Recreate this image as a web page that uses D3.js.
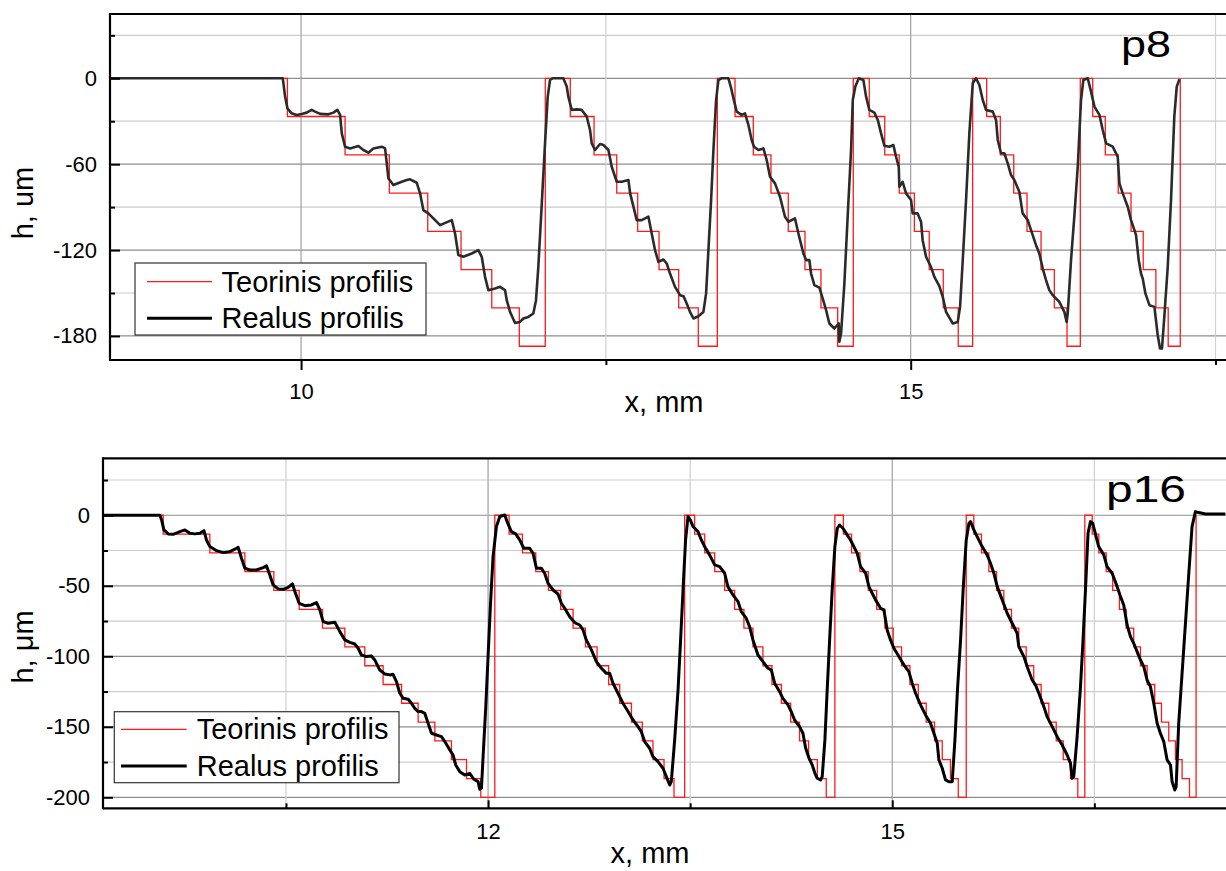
<!DOCTYPE html>
<html>
<head>
<meta charset="utf-8">
<script src="https://cdn.jsdelivr.net/npm/d3@7"></script>
<style>
    body { margin: 0; background: #fff; }
    text { font-family: "Liberation Sans", Arial, sans-serif; fill: #000; }
</style>
</head>
<body>
<svg id="chart" width="1226" height="871"></svg>
<script>
// p8: theoretical step profile, [x mm, h um], each level holds until the next x
const p8Teor = [
    [8.43, 0], [9.888, -26.7], [10.361, -53.5], [10.724, -80.2], [11.039, -107], [11.312, -133.7], [11.564, -160.4], [11.790, -187.2],
    [12.003, 0], [12.208, -26.7], [12.403, -53.5], [12.589, -80.2], [12.761, -107], [12.936, -133.7], [13.097, -160.4], [13.258, -187.2],
    [13.414, 0], [13.559, -26.7], [13.709, -53.5], [13.854, -80.2], [13.996, -107], [14.133, -133.7], [14.264, -160.4], [14.401, -187.2],
    [14.529, 0], [14.660, -26.7], [14.787, -53.5], [14.906, -80.2], [15.030, -107], [15.152, -133.7], [15.267, -160.4], [15.390, -187.2],
    [15.508, 0], [15.623, -26.7], [15.735, -53.5], [15.845, -80.2], [15.954, -107], [16.069, -133.7], [16.178, -160.4], [16.282, -187.2],
    [16.391, 0], [16.493, -26.7], [16.596, -53.5], [16.702, -80.2], [16.807, -107], [16.907, -133.7], [17.011, -160.4], [17.112, -187.2],
    [17.211, 0]
];

// p8: measured profile
const p8Real = [
    [8.43, 0], [9.850, 0], [9.869, -12.8], [9.888, -21.0], [9.923, -24.5], [9.964, -25.6], [10.005, -24.9], [10.046, -24.0],
    [10.087, -22.1], [10.115, -23.3], [10.156, -24.9], [10.224, -25.2], [10.265, -24.0], [10.298, -22.1], [10.320, -25.6],
    [10.334, -38.5], [10.361, -47.8], [10.402, -49.0], [10.470, -47.3], [10.511, -50.1], [10.552, -52.0], [10.593, -49.0],
    [10.662, -47.8], [10.689, -49.0], [10.703, -59.4], [10.716, -69.9], [10.757, -74.6], [10.826, -72.3], [10.867, -71.1],
    [10.894, -70.6], [10.949, -73.0], [10.976, -80.4], [11.003, -92.1], [11.044, -94.4], [11.085, -97.9], [11.140, -102.6],
    [11.236, -99.1], [11.263, -108.4], [11.290, -123.5], [11.331, -124.7], [11.400, -122.4], [11.454, -120.0], [11.482, -124.7],
    [11.509, -138.7], [11.536, -148.0], [11.591, -146.9], [11.632, -145.7], [11.673, -148.0], [11.687, -155.0], [11.714, -163.2],
    [11.755, -170.9], [11.796, -170.2], [11.823, -167.8], [11.864, -166.7], [11.905, -164.3], [11.927, -155.0], [11.946, -131.7],
    [11.973, -89.7], [12.001, -45.5], [12.023, -12.8], [12.042, -1.2], [12.064, 0], [12.151, 0], [12.179, -5.8], [12.192, -12.8],
    [12.220, -22.1], [12.261, -21.7], [12.302, -22.1], [12.343, -26.8], [12.370, -36.1], [12.384, -45.5], [12.411, -50.1],
    [12.452, -45.9], [12.480, -46.6], [12.521, -50.1], [12.548, -61.8], [12.589, -72.3], [12.630, -72.3], [12.685, -71.1],
    [12.699, -80.4], [12.726, -89.7], [12.753, -99.1], [12.794, -99.1], [12.849, -96.7], [12.876, -108.4], [12.903, -120.0],
    [12.931, -128.2], [12.972, -126.6], [12.999, -129.4], [13.026, -136.4], [13.067, -145.7], [13.108, -151.5], [13.136, -152.2],
    [13.163, -157.3], [13.190, -163.2], [13.218, -167.8], [13.259, -166.2], [13.300, -163.2], [13.322, -150.3], [13.341, -120.0],
    [13.363, -85.1], [13.382, -50.1], [13.404, -15.2], [13.423, -1.2], [13.450, 0], [13.505, 0], [13.524, -5.8], [13.546, -14.0],
    [13.573, -23.3], [13.614, -25.6], [13.641, -24.5], [13.669, -32.6], [13.696, -43.1], [13.715, -47.8], [13.751, -50.1],
    [13.792, -49.0], [13.819, -57.1], [13.846, -68.8], [13.887, -73.4], [13.928, -82.8], [13.969, -96.7], [13.997, -100.2],
    [14.051, -97.9], [14.079, -108.4], [14.120, -122.4], [14.142, -127.0], [14.169, -127.0], [14.183, -136.4], [14.210, -144.5],
    [14.251, -146.2], [14.278, -153.8], [14.306, -162.0], [14.333, -171.3], [14.374, -174.8], [14.410, -171.3], [14.415, -184.1],
    [14.429, -178.3], [14.456, -143.4], [14.483, -96.7], [14.511, -50.1], [14.525, -15.2], [14.546, -5.8], [14.574, 0],
    [14.612, -1.2], [14.634, -12.8], [14.661, -22.1], [14.702, -24.0], [14.730, -29.1], [14.757, -38.5], [14.784, -47.1],
    [14.825, -47.8], [14.858, -46.6], [14.880, -54.8], [14.902, -61.8], [14.907, -75.8], [14.934, -72.3], [14.962, -80.4],
    [15.003, -85.1], [15.016, -94.4], [15.057, -94.4], [15.085, -100.2], [15.098, -113.1], [15.126, -124.7], [15.167, -131.9],
    [15.194, -138.7], [15.235, -145.2], [15.263, -152.7], [15.290, -163.2], [15.345, -171.3], [15.386, -170.2], [15.405, -159.7],
    [15.427, -127.0], [15.454, -85.1], [15.481, -38.5], [15.509, -3.5], [15.536, 0], [15.563, -4.7], [15.591, -15.2],
    [15.618, -22.1], [15.673, -23.3], [15.700, -29.1], [15.714, -43.1], [15.741, -52.4], [15.768, -52.4], [15.796, -59.4],
    [15.823, -67.6], [15.850, -71.1], [15.891, -79.3], [15.918, -94.4], [15.960, -99.1], [15.987, -106.1], [16.028, -116.6],
    [16.055, -122.4], [16.083, -132.9], [16.110, -141.0], [16.137, -148.0], [16.165, -151.5], [16.219, -156.2], [16.260, -163.2],
    [16.279, -170.2], [16.288, -164.3], [16.315, -127.0], [16.342, -96.7], [16.370, -61.8], [16.397, -15.2], [16.416, -1.2],
    [16.452, 0], [16.479, -9.3], [16.507, -19.8], [16.548, -25.6], [16.575, -36.1], [16.603, -45.5], [16.657, -47.8],
    [16.698, -54.8], [16.712, -73.4], [16.739, -80.4], [16.780, -89.7], [16.807, -99.1], [16.835, -106.1], [16.848, -109.6],
    [16.870, -127.0], [16.889, -136.4], [16.903, -139.9], [16.925, -150.3], [16.958, -158.5], [16.999, -159.7], [17.026, -179.5],
    [17.045, -188.8], [17.061, -188.8], [17.080, -166.7], [17.108, -131.9], [17.135, -85.1], [17.162, -26.8], [17.182, -5.8],
    [17.204, -0.7]
];

// p16: theoretical step profile
const p16Teor = [
    [9.14, 0], [9.589, -13.3], [9.935, -26.7], [10.195, -40], [10.410, -53.3], [10.598, -66.7], [10.771, -80], [10.937, -93.3],
    [11.085, -106.7], [11.221, -120], [11.358, -133.3], [11.481, -146.7], [11.605, -160], [11.728, -173.3], [11.840, -186.7], [11.946, -200],
    [12.050, 0], [12.156, -13.3], [12.255, -26.7], [12.354, -40], [12.448, -53.3], [12.539, -66.7], [12.631, -80], [12.723, -93.3],
    [12.809, -106.7], [12.895, -120], [12.977, -133.3], [13.064, -146.7], [13.145, -160], [13.224, -173.3], [13.306, -186.7], [13.380, -200],
    [13.459, 0], [13.533, -13.3], [13.608, -26.7], [13.682, -40], [13.756, -53.3], [13.830, -66.7], [13.899, -80], [13.966, -93.3],
    [14.040, -106.7], [14.107, -120], [14.177, -133.3], [14.246, -146.7], [14.312, -160], [14.379, -173.3], [14.444, -186.7], [14.510, -200],
    [14.574, 0], [14.637, -13.3], [14.698, -26.7], [14.760, -40], [14.822, -53.3], [14.884, -66.7], [14.945, -80], [15.007, -93.3],
    [15.069, -106.7], [15.131, -120], [15.193, -133.3], [15.252, -146.7], [15.314, -160], [15.371, -173.3], [15.432, -186.7], [15.490, -200],
    [15.549, 0], [15.605, -13.3], [15.662, -26.7], [15.717, -40], [15.774, -53.3], [15.828, -66.7], [15.885, -80], [15.939, -93.3],
    [15.994, -106.7], [16.050, -120], [16.105, -133.3], [16.162, -146.7], [16.217, -160], [16.269, -173.3], [16.323, -186.7], [16.377, -200],
    [16.429, 0], [16.484, -13.3], [16.533, -26.7], [16.588, -40], [16.636, -53.3], [16.686, -66.7], [16.736, -80], [16.792, -93.3],
    [16.842, -106.7], [16.892, -120], [16.948, -133.3], [16.998, -146.7], [17.052, -160], [17.102, -173.3], [17.151, -186.7], [17.206, -200],
    [17.255, 0]
];

// p16: measured profile
const p16Real = [
    [9.14, 0], [9.564, 0], [9.577, -3.3], [9.594, -10.4], [9.626, -13.2], [9.663, -13.5], [9.713, -11.6], [9.750, -10.4],
    [9.787, -12.8], [9.824, -13.2], [9.861, -12.8], [9.891, -10.9], [9.910, -17.5], [9.935, -22.2], [9.985, -25.1],
    [10.034, -26.5], [10.084, -25.8], [10.133, -23.4], [10.145, -22.7], [10.170, -30.5], [10.195, -37.6], [10.232, -38.8],
    [10.281, -38.8], [10.331, -37.1], [10.356, -35.9], [10.380, -42.3], [10.405, -49.4], [10.442, -52.2], [10.479, -52.5],
    [10.516, -51.1], [10.548, -48.7], [10.566, -54.1], [10.598, -62.4], [10.640, -64.1], [10.689, -63.6], [10.727, -61.9],
    [10.751, -67.1], [10.776, -75.4], [10.813, -76.6], [10.863, -75.9], [10.900, -82.5], [10.937, -88.4], [10.974, -90.1],
    [11.011, -91.3], [11.036, -94.3], [11.060, -99.1], [11.097, -100.2], [11.135, -99.8], [11.159, -102.6], [11.196, -109.7],
    [11.233, -112.5], [11.271, -113.2], [11.295, -112.8], [11.320, -118.0], [11.345, -126.2], [11.370, -129.8], [11.407, -130.5],
    [11.431, -133.3], [11.456, -136.9], [11.481, -139.2], [11.505, -139.2], [11.530, -140.4], [11.555, -147.5], [11.580, -154.6],
    [11.617, -155.8], [11.654, -157.0], [11.679, -160.5], [11.716, -166.4], [11.740, -170.0], [11.760, -177.1], [11.790, -181.8],
    [11.827, -184.2], [11.864, -183.0], [11.894, -187.2], [11.926, -188.9], [11.938, -194.3], [11.951, -193.6], [11.963, -171.2],
    [11.983, -135.7], [12.000, -100.2], [12.017, -64.8], [12.037, -29.3], [12.062, -8.0], [12.087, -0.9], [12.124, 0.2],
    [12.141, -4.5], [12.173, -11.6], [12.205, -13.2], [12.235, -17.5], [12.265, -23.4], [12.309, -23.4], [12.334, -27.0],
    [12.359, -37.6], [12.396, -37.6], [12.420, -41.1], [12.445, -48.2], [12.482, -53.0], [12.519, -55.8], [12.544, -62.4],
    [12.569, -66.0], [12.606, -71.9], [12.643, -76.1], [12.680, -77.8], [12.705, -81.3], [12.729, -88.4], [12.767, -95.5],
    [12.804, -103.8], [12.841, -108.5], [12.878, -112.1], [12.903, -112.1], [12.927, -119.1], [12.964, -126.2], [13.001, -133.3],
    [13.039, -139.2], [13.076, -145.2], [13.113, -149.9], [13.137, -153.4], [13.162, -160.5], [13.199, -165.2], [13.224, -171.2],
    [13.261, -174.7], [13.298, -179.4], [13.323, -185.3], [13.348, -191.3], [13.360, -188.9], [13.385, -159.3], [13.410, -123.9],
    [13.429, -88.4], [13.447, -53.0], [13.466, -17.5], [13.484, -0.9], [13.501, -3.3], [13.521, -8.0], [13.558, -11.6],
    [13.583, -17.5], [13.607, -22.2], [13.644, -28.1], [13.682, -35.2], [13.719, -36.4], [13.756, -41.1], [13.780, -50.6],
    [13.818, -56.5], [13.855, -61.2], [13.879, -68.3], [13.916, -73.0], [13.941, -79.0], [13.966, -88.4], [14.003, -99.1],
    [14.040, -103.8], [14.077, -108.5], [14.102, -109.7], [14.127, -119.1], [14.164, -125.1], [14.188, -129.8], [14.226, -134.5],
    [14.250, -139.2], [14.275, -145.2], [14.312, -149.9], [14.337, -154.6], [14.357, -165.0], [14.381, -172.0], [14.406, -177.1],
    [14.426, -183.0], [14.443, -186.5], [14.468, -187.7], [14.480, -185.3], [14.500, -159.3], [14.517, -123.9], [14.535, -88.4],
    [14.554, -53.0], [14.574, -22.2], [14.592, -9.2], [14.609, -6.9], [14.634, -9.2], [14.658, -12.8], [14.690, -17.5],
    [14.715, -22.2], [14.740, -27.0], [14.765, -36.4], [14.802, -41.1], [14.827, -50.6], [14.851, -55.3], [14.876, -60.0],
    [14.913, -66.0], [14.938, -67.1], [14.962, -81.3], [14.987, -88.4], [15.012, -94.3], [15.049, -100.2], [15.086, -106.1],
    [15.123, -110.9], [15.148, -119.1], [15.173, -126.2], [15.210, -134.5], [15.247, -141.6], [15.284, -147.5], [15.309, -154.6],
    [15.334, -161.7], [15.346, -173.5], [15.371, -179.4], [15.395, -187.7], [15.420, -188.9], [15.445, -188.9], [15.465, -159.3],
    [15.484, -123.9], [15.507, -88.4], [15.526, -53.0], [15.549, -17.5], [15.569, -5.7], [15.581, -4.5], [15.606, -10.4],
    [15.630, -15.1], [15.667, -22.2], [15.704, -28.1], [15.729, -34.0], [15.754, -41.1], [15.779, -50.6], [15.816, -60.0],
    [15.853, -69.5], [15.890, -76.6], [15.927, -83.7], [15.939, -93.1], [15.977, -100.2], [16.001, -107.3], [16.038, -116.8],
    [16.063, -120.3], [16.088, -126.2], [16.125, -135.7], [16.149, -142.8], [16.187, -149.9], [16.224, -157.0], [16.261, -162.9],
    [16.298, -170.0], [16.323, -175.9], [16.335, -186.5], [16.347, -185.3], [16.372, -157.0], [16.397, -121.5], [16.416, -88.4],
    [16.434, -53.0], [16.453, -12.8], [16.471, -4.5], [16.488, -5.7], [16.513, -15.1], [16.532, -22.2], [16.570, -28.1],
    [16.594, -36.4], [16.632, -41.1], [16.669, -50.6], [16.694, -57.7], [16.718, -63.6], [16.743, -77.8], [16.768, -86.1],
    [16.792, -90.8], [16.817, -96.7], [16.842, -102.6], [16.867, -107.3], [16.891, -116.8], [16.916, -121.5], [16.941, -133.3],
    [16.966, -147.5], [16.990, -154.6], [17.015, -160.5], [17.040, -173.5], [17.065, -177.1], [17.077, -188.9], [17.097, -194.8],
    [17.107, -192.4], [17.126, -147.5], [17.151, -112.1], [17.176, -76.6], [17.201, -41.1], [17.225, -8.0], [17.250, 2.6],
    [17.275, 1.9], [17.324, 0.9], [17.398, 0.9], [17.472, 0.9]
];

const p8YMajor = [0, -60, -120, -180];
const p8YMinor = [30, -30, -90, -150];
const p8XMajor = [10, 15];
const p8XMinor = [12.5, 17.5];
const p16YMajor = [0, -50, -100, -150, -200];
const p16YMinor = [25, -25, -75, -125, -175];
const p16XMajor = [12, 15];
const p16XMinor = [10.5, 13.5, 16.5];
const legendLabels = ["Teorinis profilis", "Realus profilis"];

const svg = d3.select("#chart");

function styleAxis(g, fontSize) {
    g.select(".domain").remove();
    g.selectAll("line").attr("stroke", "#000").attr("stroke-width", 2);
    g.selectAll("text").style("font-size", `${fontSize}px`).style("font-family", "Liberation Sans, Arial, sans-serif").attr("fill", "#000");
}

function drawPanel(o) {
    const x = d3.scaleLinear().domain(o.xDomain).range([o.left, o.right]);
    const y = d3.scaleLinear().domain(o.yDomain).range([o.bottom, o.top]);
    const g = svg.append("g");

    g.append("clipPath").attr("id", `clip-${o.name}`)
        .append("rect")
        .attr("x", o.left).attr("y", o.top)
        .attr("width", o.right - o.left).attr("height", o.bottom - o.top);

    // grid
    g.append("g").selectAll("line")
        .data(o.yMajor.map(v => [v, "#8e8e8e"]).concat(o.yMinor.map(v => [v, "#cbcbcb"])))
        .join("line")
        .attr("x1", o.left).attr("x2", o.right)
        .attr("y1", d => y(d[0])).attr("y2", d => y(d[0]))
        .attr("stroke", d => d[1]).attr("stroke-width", 1.2);
    g.append("g").selectAll("line")
        .data(o.xMajor.map(v => [v, "#a0a0a0"]).concat(o.xMinor.map(v => [v, "#d0d0d0"])))
        .join("line")
        .attr("x1", d => x(d[0])).attr("x2", d => x(d[0]))
        .attr("y1", o.top).attr("y2", o.bottom)
        .attr("stroke", d => d[1]).attr("stroke-width", 1.2);

    const stepLine = d3.line().x(d => x(d[0])).y(d => y(d[1])).curve(d3.curveStepAfter);
    const realLine = d3.line().x(d => x(d[0])).y(d => y(d[1]));

    const plot = g.append("g").attr("clip-path", `url(#clip-${o.name})`);
    plot.append("path").datum(o.teor)
        .attr("d", stepLine)
        .attr("fill", "none").attr("stroke", "#ff1a1a").attr("stroke-width", 1.3);
    plot.append("path").datum(o.real)
        .attr("d", realLine)
        .attr("fill", "none").attr("stroke", o.realColor).attr("stroke-width", o.realWidth)
        .attr("stroke-linejoin", "round");

    // axes
    g.append("g").attr("transform", `translate(${o.left},0)`)
        .call(d3.axisLeft(y).tickValues(o.yMajor).tickSize(-10).tickPadding(13).tickFormat(d => `${d}`))
        .call(a => styleAxis(a, 22));
    g.append("g").attr("transform", `translate(${o.left},0)`)
        .call(d3.axisLeft(y).tickValues(o.yMinor).tickSize(-5).tickFormat(""))
        .call(a => styleAxis(a, 22));
    g.append("g").attr("transform", `translate(0,${o.bottom})`)
        .call(d3.axisBottom(x).tickValues(o.xMajor).tickSize(o.xTick).tickPadding(o.xPad).tickFormat(d => `${d}`))
        .call(a => styleAxis(a, 22));
    g.append("g").attr("transform", `translate(0,${o.bottom})`)
        .call(d3.axisBottom(x).tickValues(o.xMinor).tickSize(o.xTick > 0 ? 5 : -5).tickFormat(""))
        .call(a => styleAxis(a, 22));

    const frame = g.append("g").attr("stroke", "#000").attr("stroke-width", 2.2);
    frame.append("line").attr("x1", o.left).attr("x2", o.left).attr("y1", o.top - 1).attr("y2", o.bottom + 1);
    frame.append("line").attr("x1", o.left).attr("x2", o.right).attr("y1", o.top).attr("y2", o.top);
    frame.append("line").attr("x1", o.left).attr("x2", o.right).attr("y1", o.bottom).attr("y2", o.bottom);

    // titles
    g.append("text")
        .attr("transform", `translate(${o.yTitlePos[0]},${o.yTitlePos[1]}) rotate(-90)`)
        .attr("text-anchor", "middle").attr("font-size", 29)
        .text(o.yTitle);
    g.append("text")
        .attr("x", o.xTitlePos[0]).attr("y", o.xTitlePos[1])
        .attr("text-anchor", "middle").attr("font-size", 29)
        .text("x, mm");
    g.append("text")
        .attr("x", o.tagPos[0]).attr("y", o.tagPos[1])
        .attr("font-size", o.tagSize)
        .attr("textLength", o.tagWidth).attr("lengthAdjust", "spacingAndGlyphs")
        .text(o.name);

    // legend
    const L = o.legend;
    const lg = g.append("g");
    lg.append("rect")
        .attr("x", L.x).attr("y", L.y).attr("width", L.w).attr("height", L.h)
        .attr("fill", "#fff").attr("stroke", "#333").attr("stroke-width", 1.2);
    const items = [
        { label: legendLabels[0], color: "#ff1a1a", width: 1.3 },
        { label: legendLabels[1], color: "#000", width: 3 }
    ];
    items.forEach((it, i) => {
        const cy = L.rows[i];
        lg.append("line")
            .attr("x1", L.lineX[0]).attr("x2", L.lineX[1])
            .attr("y1", cy).attr("y2", cy)
            .attr("stroke", it.color).attr("stroke-width", it.width);
        lg.append("text")
            .attr("x", L.textX).attr("y", cy + 10)
            .attr("font-size", 29)
            .text(it.label);
    });
}

drawPanel({
    name: "p8",
    teor: p8Teor, real: p8Real,
    realColor: "#2b2b2b", realWidth: 2.6,
    xDomain: [8.433, 17.586], yDomain: [-196.8, 44.9],
    left: 110, right: 1226, top: 14, bottom: 360,
    yMajor: p8YMajor, yMinor: p8YMinor, xMajor: p8XMajor, xMinor: p8XMinor,
    xTick: 10, xPad: 13,
    yTitle: "h, um", yTitlePos: [33, 203], xTitlePos: [664, 412],
    tagPos: [1121, 57], tagSize: 36, tagWidth: 50,
    legend: { x: 135, y: 263, w: 291, h: 72, rows: [281.7, 318.3], lineX: [147, 212], textX: 221.5 }
});

drawPanel({
    name: "p16",
    teor: p16Teor, real: p16Real,
    realColor: "#000", realWidth: 3,
    xDomain: [9.142, 17.477], yDomain: [-207.8, 40.4],
    left: 103, right: 1226, top: 458.3, bottom: 808.3,
    yMajor: p16YMajor, yMinor: p16YMinor, xMajor: p16XMajor, xMinor: p16XMinor,
    xTick: -8, xPad: 15,
    yTitle: "h, \u03bcm", yTitlePos: [33, 647], xTitlePos: [650, 863],
    tagPos: [1106, 502], tagSize: 37, tagWidth: 80,
    legend: { x: 114.3, y: 711.7, w: 284.7, h: 71, rows: [729.3, 766], lineX: [121, 186.7], textX: 196.7 }
});
</script>
</body>
</html>
